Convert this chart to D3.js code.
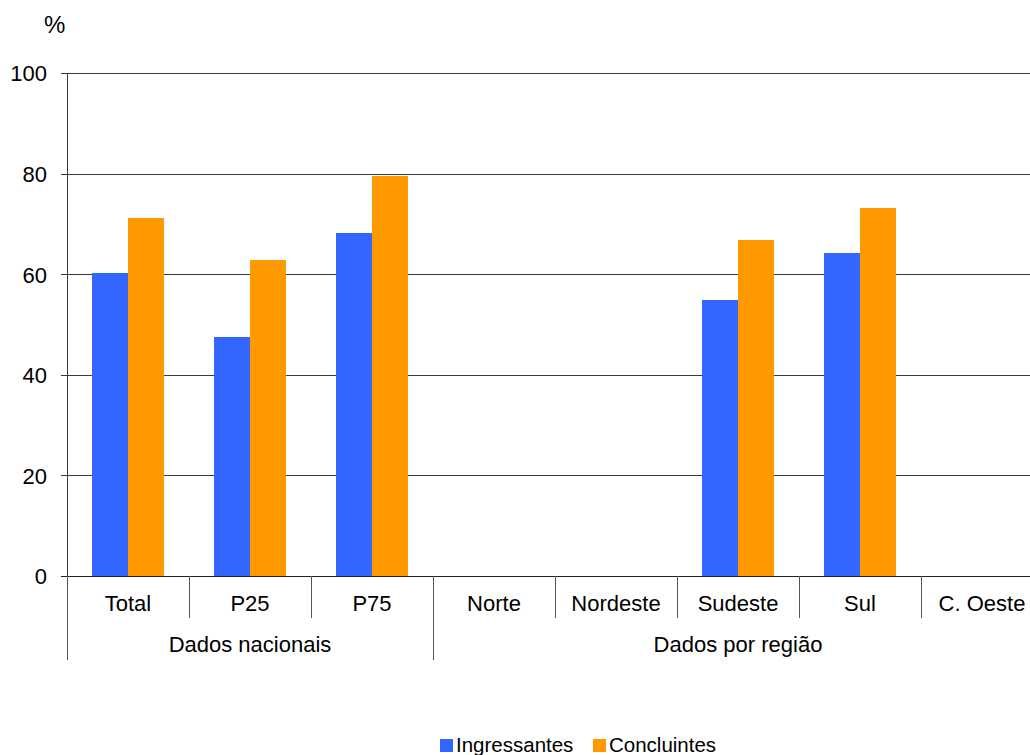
<!DOCTYPE html>
<html>
<head>
<meta charset="utf-8">
<script src="https://cdn.jsdelivr.net/npm/d3@7"></script>
<style>
  html, body { margin: 0; padding: 0; background: #fff; overflow: hidden; }
  svg { display: block; font-family: Arial, "Liberation Sans", sans-serif; }
</style>
</head>
<body>
<svg id="chart" width="1030" height="755"></svg>
<script>
// ---- data ----
const categories = ["Total", "P25", "P75", "Norte", "Nordeste", "Sudeste", "Sul", "C. Oeste"];
const seriesNames = ["Ingressantes", "Concluintes"];
const ingressantes = [60.2, 47.6, 68.1, null, null, 54.9, 64.2, null];
const concluintes  = [71.2, 62.8, 79.6, null, null, 66.7, 73.2, null];
const groupNames = ["Dados nacionais", "Dados por região"];
const groupMembers = [["Total", "P25", "P75"], ["Norte", "Nordeste", "Sudeste", "Sul", "C. Oeste"]];
const yTicks = [0, 20, 40, 60, 80, 100];
const colors = ["#3366FF", "#FF9900"];

// ---- layout ----
const svg = d3.select("#chart");
const mLeft = 67, mRight = 1043, mTop = 73, mBottom = 576;
const font = 22;

const x0 = d3.scaleBand().domain(categories).range([mLeft, mRight]).paddingInner(0).paddingOuter(0);
const x1 = d3.scaleBand().domain(seriesNames).range([0, x0.bandwidth()]).paddingInner(0).paddingOuter(0.694);
const y = d3.scaleLinear().domain([0, 100]).range([mBottom, mTop]);
const color = d3.scaleOrdinal().domain(seriesNames).range(colors);

const values = [ingressantes, concluintes];
const rows = categories.map((c, i) => ({ cat: c, vals: seriesNames.map((s, j) => ({ s, v: values[j][i] })) }));

// gridlines
const grid = svg.append("g").attr("transform", `translate(${mLeft},0)`)
  .call(d3.axisLeft(y).tickValues(yTicks).tickSize(-(mRight - mLeft)).tickFormat(""));
grid.select(".domain").remove();
grid.selectAll("line").attr("stroke", "#3a3a3a").attr("stroke-width", 1).attr("shape-rendering", "crispEdges");

// bars
svg.append("g").selectAll("g").data(rows).join("g")
  .attr("transform", d => `translate(${x0(d.cat)},0)`)
  .selectAll("rect").data(d => d.vals.filter(v => v.v != null)).join("rect")
  .attr("x", d => x1(d.s))
  .attr("width", x1.bandwidth())
  .attr("y", d => y(d.v))
  .attr("height", d => y(0) - y(d.v))
  .attr("fill", d => color(d.s))
  .attr("shape-rendering", "crispEdges");

// y axis
const yAx = svg.append("g").attr("transform", `translate(${mLeft},0)`)
  .call(d3.axisLeft(y).tickValues(yTicks).tickSize(6).tickPadding(14).tickFormat(d3.format("d")));
yAx.select(".domain").remove();
yAx.selectAll("line").attr("stroke", "#3a3a3a").attr("shape-rendering", "crispEdges");
yAx.selectAll("text").attr("font-size", font).attr("fill", "#000").attr("font-family", "Arial, 'Liberation Sans', sans-serif").attr("dy", "0.36em");

// x axis line
svg.append("line").attr("x1", mLeft - 6).attr("x2", mRight).attr("y1", y(0)).attr("y2", y(0))
  .attr("stroke", "#222").attr("shape-rendering", "crispEdges");
// vertical axis line
svg.append("line").attr("x1", mLeft).attr("x2", mLeft).attr("y1", mTop).attr("y2", mBottom)
  .attr("stroke", "#3a3a3a").attr("shape-rendering", "crispEdges");

// category boundaries
const groupStarts = new Set(groupMembers.map(g => g[0]));
const bounds = categories.map(c => ({ x: x0(c), long: groupStarts.has(c) }));
bounds.push({ x: x0(categories[categories.length - 1]) + x0.bandwidth(), long: true });
svg.append("g").selectAll("line").data(bounds).join("line")
  .attr("x1", d => d.x).attr("x2", d => d.x)
  .attr("y1", mBottom).attr("y2", d => d.long ? 660 : 618)
  .attr("stroke", "#555").attr("shape-rendering", "crispEdges");

// category labels
const xAx = svg.append("g").attr("transform", `translate(0,${mBottom})`)
  .call(d3.axisBottom(x0).tickSize(0).tickPadding(0));
xAx.select(".domain").remove();
xAx.selectAll("text").attr("font-size", font).attr("fill", "#000")
  .attr("font-family", "Arial, 'Liberation Sans', sans-serif")
  .attr("dy", null).attr("y", 35);

// group labels
svg.append("g").selectAll("text").data(groupNames.map((g, i) => ({ g, m: groupMembers[i] }))).join("text")
  .attr("x", d => (x0(d.m[0]) + x0(d.m[d.m.length - 1]) + x0.bandwidth()) / 2)
  .attr("y", 652)
  .attr("text-anchor", "middle")
  .attr("font-size", font)
  .text(d => d.g);

// unit label
svg.append("text").attr("x", 44).attr("y", 33).attr("font-size", 24).text("%");

// legend
const legendItems = [
  { s: seriesNames[0], x: 440 },
  { s: seriesNames[1], x: 593 }
];
const lg = svg.append("g").selectAll("g").data(legendItems).join("g")
  .attr("transform", d => `translate(${d.x},0)`);
lg.append("rect").attr("x", 0).attr("y", 739).attr("width", 13).attr("height", 13)
  .attr("fill", d => color(d.s));
lg.append("text").attr("x", 16).attr("y", 752).attr("font-size", 20.5).text(d => d.s);
</script>
</body>
</html>
